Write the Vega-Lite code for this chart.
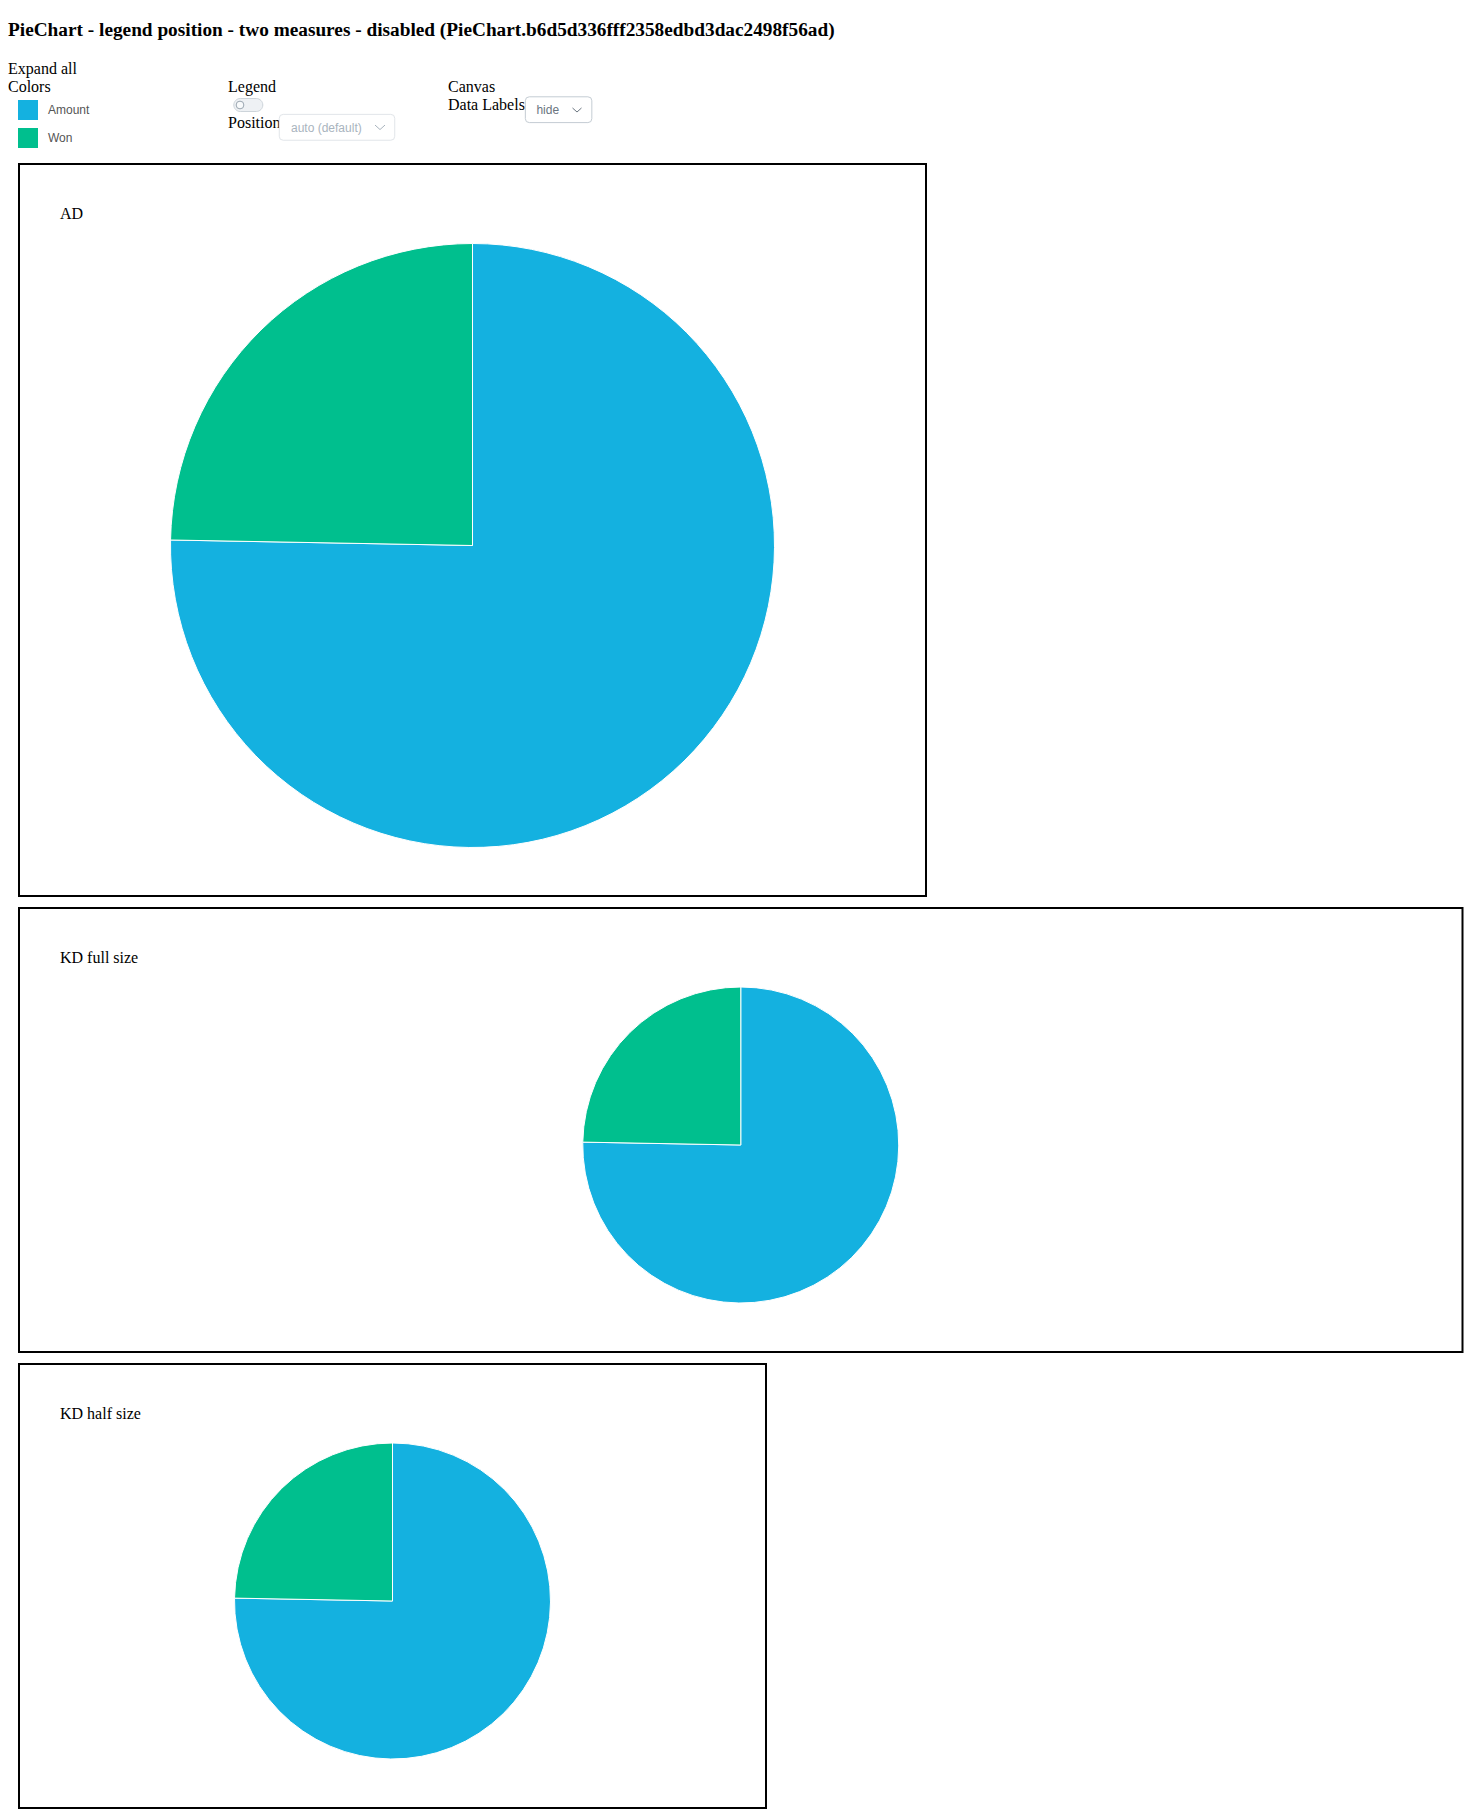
{
  "$schema": "https://vega.github.io/schema/vega-lite/v6.json",
  "background": "white",
  "padding": {"left": 8, "top": 20, "right": 0, "bottom": 0},
  "title": {
    "text": "PieChart - legend position - two measures - disabled (PieChart.b6d5d336fff2358edbd3dac2498f56ad)",
    "anchor": "start", "frame": "group", "orient": "top",
    "dx": -11, "offset": 4.8, "baseline": "alphabetic",
    "font": "Liberation Serif", "fontSize": 19.3, "fontWeight": "bold", "color": "#000000"
  },
  "datasets": {
    "measures": [
      {"measure": "Amount", "value": 75.29},
      {"measure": "Won", "value": 24.71}
    ],
    "labels": [
      {"group": "Colors", "line": 0, "label": "Expand all"},
      {"group": "Colors", "line": 1, "label": "Colors"},
      {"group": "Legend", "line": 1, "label": "Legend"},
      {"group": "Legend", "line": 3, "label": "Position"},
      {"group": "Canvas", "line": 1, "label": "Canvas"},
      {"group": "Canvas", "line": 2, "label": "Data Labels"}
    ],
    "toggle": [{"group": "Legend", "line": 2, "control": "Legend visible", "state": "off"}],
    "positionSelect": [{"group": "Legend", "line": 3, "option": "auto (default)"}],
    "labelSelect": [{"group": "Canvas", "line": 2, "option": "hide"}]
  },
  "resolve": {"scale": {"color": "independent"}, "legend": {"color": "independent"}},
  "spacing": 15,
  "vconcat": [
    {
      "width": 440,
      "height": 72,
      "view": {"stroke": null},
      "layer": [
        {
          "data": {"name": "labels"},
          "mark": {"type": "text", "align": "left", "baseline": "middle", "dx": -11, "font": "Liberation Serif", "fontSize": 16, "color": "#000000"},
          "encoding": {
            "x": {"field": "group", "type": "nominal", "scale": {"type": "point", "domain": ["Colors", "Legend", "Canvas"], "padding": 0}, "axis": null},
            "y": {"field": "line", "type": "ordinal", "scale": {"type": "point", "domain": [0, 1, 2, 3], "padding": 0.5}, "axis": null},
            "text": {"field": "label"}
          }
        },
        {
          "data": {"name": "toggle"},
          "mark": {"type": "point", "shape": "M-0.552,-0.448L0.552,-0.448A0.448,0.448 0 0 1 0.552,0.448L-0.552,0.448A0.448,0.448 0 0 1 -0.552,-0.448Z", "size": 841, "filled": true, "fill": "#eef1f4", "stroke": "#cdd4da", "strokeWidth": 1, "opacity": 1, "xOffset": 9.3},
          "encoding": {
            "x": {"field": "group", "type": "nominal", "scale": {"type": "point", "domain": ["Colors", "Legend", "Canvas"], "padding": 0}, "axis": null},
            "y": {"field": "line", "type": "ordinal", "scale": {"type": "point", "domain": [0, 1, 2, 3], "padding": 0.5}, "axis": null}
          }
        },
        {
          "data": {"name": "toggle"},
          "mark": {"type": "point", "shape": "circle", "size": 60, "filled": true, "fill": "#f8fafb", "stroke": "#9aa6b1", "strokeWidth": 1, "opacity": 1, "xOffset": 1},
          "encoding": {
            "x": {"field": "group", "type": "nominal", "scale": {"type": "point", "domain": ["Colors", "Legend", "Canvas"], "padding": 0}, "axis": null},
            "y": {"field": "line", "type": "ordinal", "scale": {"type": "point", "domain": [0, 1, 2, 3], "padding": 0.5}, "axis": null}
          }
        },
        {
          "data": {"name": "positionSelect"},
          "mark": {"type": "point", "shape": "M-0.931,-0.224L0.931,-0.224Q1,-0.224 1,-0.155L1,0.155Q1,0.224 0.931,0.224L-0.931,0.224Q-1,0.224 -1,0.155L-1,-0.155Q-1,-0.224 -0.931,-0.224Z", "size": 13340, "filled": true, "fill": "#ffffff", "stroke": "#e1e5e9", "strokeWidth": 1, "opacity": 1, "xOffset": 98, "yOffset": 4.3},
          "encoding": {
            "x": {"field": "group", "type": "nominal", "scale": {"type": "point", "domain": ["Colors", "Legend", "Canvas"], "padding": 0}, "axis": null},
            "y": {"field": "line", "type": "ordinal", "scale": {"type": "point", "domain": [0, 1, 2, 3], "padding": 0.5}, "axis": null}
          }
        },
        {
          "data": {"name": "positionSelect"},
          "mark": {"type": "text", "align": "left", "baseline": "middle", "dx": 52, "dy": 4.5, "font": "Liberation Sans", "fontSize": 12, "color": "#a9b4be"},
          "encoding": {
            "x": {"field": "group", "type": "nominal", "scale": {"type": "point", "domain": ["Colors", "Legend", "Canvas"], "padding": 0}, "axis": null},
            "y": {"field": "line", "type": "ordinal", "scale": {"type": "point", "domain": [0, 1, 2, 3], "padding": 0.5}, "axis": null},
            "text": {"field": "option"}
          }
        },
        {
          "data": {"name": "positionSelect"},
          "mark": {"type": "point", "shape": "M-1,-0.45L0,0.45L1,-0.45", "size": 100, "filled": false, "fill": null, "stroke": "#a9b4be", "strokeWidth": 1, "opacity": 1, "xOffset": 141, "yOffset": 4.3},
          "encoding": {
            "x": {"field": "group", "type": "nominal", "scale": {"type": "point", "domain": ["Colors", "Legend", "Canvas"], "padding": 0}, "axis": null},
            "y": {"field": "line", "type": "ordinal", "scale": {"type": "point", "domain": [0, 1, 2, 3], "padding": 0.5}, "axis": null}
          }
        },
        {
          "data": {"name": "labelSelect"},
          "mark": {"type": "point", "shape": "M-0.881,-0.388L0.881,-0.388Q1,-0.388 1,-0.269L1,0.269Q1,0.388 0.881,0.388L-0.881,0.388Q-1,0.388 -1,0.269L-1,-0.269Q-1,-0.388 -0.881,-0.388Z", "size": 4420, "filled": true, "fill": "#ffffff", "stroke": "#c4ccd3", "strokeWidth": 1, "opacity": 1, "xOffset": 99.6, "yOffset": 4.7},
          "encoding": {
            "x": {"field": "group", "type": "nominal", "scale": {"type": "point", "domain": ["Colors", "Legend", "Canvas"], "padding": 0}, "axis": null},
            "y": {"field": "line", "type": "ordinal", "scale": {"type": "point", "domain": [0, 1, 2, 3], "padding": 0.5}, "axis": null}
          }
        },
        {
          "data": {"name": "labelSelect"},
          "mark": {"type": "text", "align": "left", "baseline": "middle", "dx": 77.4, "dy": 5, "font": "Liberation Sans", "fontSize": 12, "color": "#6a7580"},
          "encoding": {
            "x": {"field": "group", "type": "nominal", "scale": {"type": "point", "domain": ["Colors", "Legend", "Canvas"], "padding": 0}, "axis": null},
            "y": {"field": "line", "type": "ordinal", "scale": {"type": "point", "domain": [0, 1, 2, 3], "padding": 0.5}, "axis": null},
            "text": {"field": "option"}
          }
        },
        {
          "data": {"name": "labelSelect"},
          "mark": {"type": "point", "shape": "M-1,-0.45L0,0.45L1,-0.45", "size": 81, "filled": false, "fill": null, "stroke": "#6a7580", "strokeWidth": 1, "opacity": 1, "xOffset": 118, "yOffset": 5},
          "encoding": {
            "x": {"field": "group", "type": "nominal", "scale": {"type": "point", "domain": ["Colors", "Legend", "Canvas"], "padding": 0}, "axis": null},
            "y": {"field": "line", "type": "ordinal", "scale": {"type": "point", "domain": [0, 1, 2, 3], "padding": 0.5}, "axis": null}
          }
        },
        {
          "data": {"name": "measures"},
          "mark": {"type": "point", "filled": true, "opacity": 0, "size": 1},
          "encoding": {
            "color": {
              "field": "measure", "type": "nominal",
              "scale": {"domain": ["Amount", "Won"], "range": ["#14b1e0", "#00bf8e"]},
              "legend": {
                "orient": "none", "legendX": -1, "legendY": 40, "direction": "vertical",
                "title": null, "padding": 0,
                "symbolType": "square", "symbolSize": 400, "symbolOpacity": 1,
                "symbolStrokeWidth": 0, "rowPadding": 8, "labelOffset": 10,
                "labelFont": "Liberation Sans", "labelFontSize": 12, "labelColor": "#555555"
              }
            }
          }
        }
      ]
    },
    {
      "spacing": 10,
      "vconcat": [
        {
          "width": 907,
          "height": 732,
          "view": {"stroke": "#000000", "strokeWidth": 2},
          "title": {"text": "AD", "anchor": "start", "frame": "group", "offset": 0, "dx": 41, "dy": 71, "baseline": "alphabetic", "font": "Liberation Serif", "fontSize": 16, "fontWeight": "normal", "color": "#000000"},
          "data": {"name": "measures"},
          "mark": {"type": "arc", "radius": 302, "stroke": "#ffffff", "strokeWidth": 1, "yOffset": 15.5},
          "encoding": {
            "theta": {"field": "value", "type": "quantitative", "stack": true},
            "color": {"field": "measure", "type": "nominal", "scale": {"domain": ["Amount", "Won"], "range": ["#14b1e0", "#00bf8e"]}, "legend": null}
          }
        },
        {
          "width": 1443.5,
          "height": 444,
          "view": {"stroke": "#000000", "strokeWidth": 2},
          "title": {"text": "KD full size", "anchor": "start", "frame": "group", "offset": 0, "dx": 41, "dy": 71, "baseline": "alphabetic", "font": "Liberation Serif", "fontSize": 16, "fontWeight": "normal", "color": "#000000"},
          "data": {"name": "measures"},
          "mark": {"type": "arc", "radius": 158, "stroke": "#ffffff", "strokeWidth": 1, "yOffset": 15},
          "encoding": {
            "theta": {"field": "value", "type": "quantitative", "stack": true},
            "color": {"field": "measure", "type": "nominal", "scale": {"domain": ["Amount", "Won"], "range": ["#14b1e0", "#00bf8e"]}, "legend": null}
          }
        },
        {
          "width": 747,
          "height": 444,
          "view": {"stroke": "#000000", "strokeWidth": 2},
          "title": {"text": "KD half size", "anchor": "start", "frame": "group", "offset": 0, "dx": 41, "dy": 71, "baseline": "alphabetic", "font": "Liberation Serif", "fontSize": 16, "fontWeight": "normal", "color": "#000000"},
          "data": {"name": "measures"},
          "mark": {"type": "arc", "radius": 158, "stroke": "#ffffff", "strokeWidth": 1, "yOffset": 15},
          "encoding": {
            "theta": {"field": "value", "type": "quantitative", "stack": true},
            "color": {"field": "measure", "type": "nominal", "scale": {"domain": ["Amount", "Won"], "range": ["#14b1e0", "#00bf8e"]}, "legend": null}
          }
        }
      ]
    }
  ]
}
